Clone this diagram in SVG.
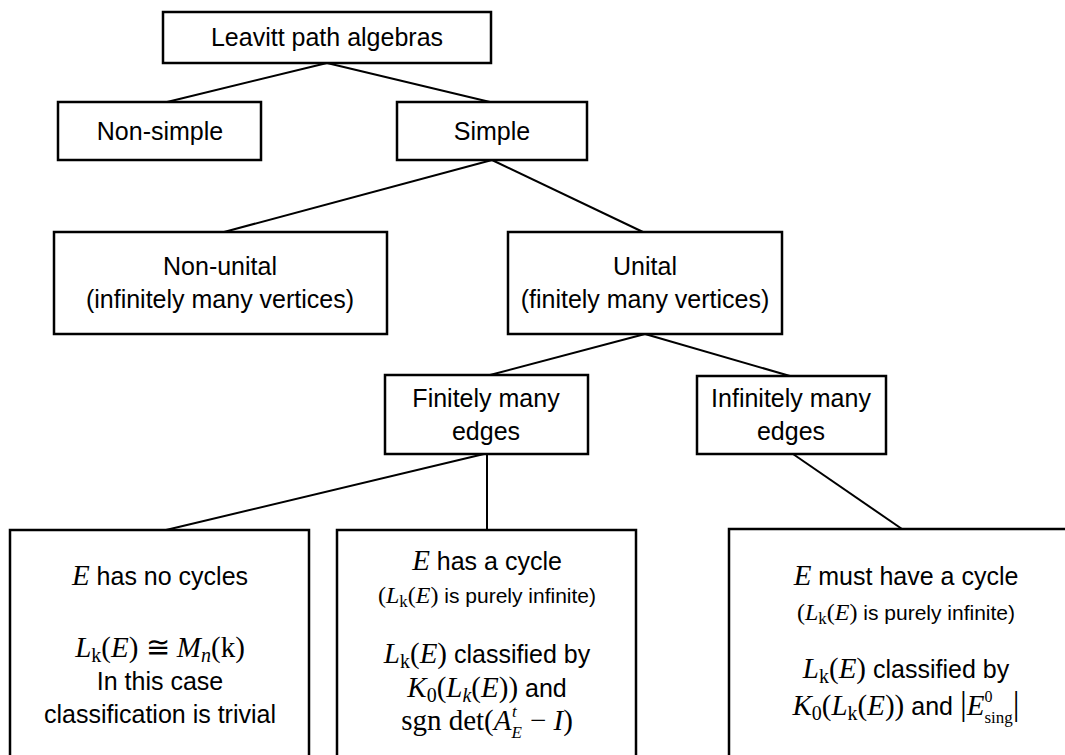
<svg xmlns="http://www.w3.org/2000/svg" width="1065" height="755" viewBox="0 0 1065 755">
<style>
.box{fill:#fff;stroke:#000;stroke-width:2.5}
.ln{stroke:#000;stroke-width:2;fill:none}
.t{font-family:"Liberation Sans",Arial,sans-serif;font-size:25px;fill:#000;text-anchor:middle}
.s{font-size:21px}
.m{font-family:"Liberation Serif","DejaVu Serif",serif;font-style:italic}
.r{font-family:"Liberation Serif","DejaVu Serif",serif;font-style:normal}
.mb{font-size:29px}
.ms{font-size:24px}
</style>
<rect width="1065" height="755" fill="#fff"/>
<g id="connectors">
<line class="ln" x1="327" y1="63" x2="167" y2="102"/>
<line class="ln" x1="327" y1="63" x2="490" y2="102"/>
<line class="ln" x1="492" y1="160" x2="224" y2="232"/>
<line class="ln" x1="492" y1="160" x2="643" y2="232"/>
<line class="ln" x1="645" y1="334" x2="490" y2="375"/>
<line class="ln" x1="645" y1="334" x2="790" y2="376"/>
<line class="ln" x1="484" y1="454" x2="166" y2="530"/>
<line class="ln" x1="487" y1="454" x2="487" y2="530"/>
<line class="ln" x1="793" y1="454" x2="902" y2="529"/>
</g>
<g id="n-lpa"><rect class="box" x="163" y="12" width="328" height="51"/><text class="t" x="327" y="46" font-size="26">Leavitt path algebras</text></g>
<g id="n-nonsimple"><rect class="box" x="58" y="102" width="203" height="58"/><text class="t" x="160" y="140">Non-simple</text></g>
<g id="n-simple"><rect class="box" x="397" y="102" width="190" height="58"/><text class="t" x="492" y="140">Simple</text></g>
<g id="n-nonunital"><rect class="box" x="54" y="232" width="333" height="102"/><text class="t" x="220" y="275">Non-unital</text><text class="t" x="220" y="308">(infinitely many vertices)</text></g>
<g id="n-unital"><rect class="box" x="508" y="232" width="274" height="102"/><text class="t" x="645" y="275">Unital</text><text class="t" x="645" y="308">(finitely many vertices)</text></g>
<g id="n-finite"><rect class="box" x="385" y="375" width="203" height="79"/><text class="t" x="486" y="407">Finitely many</text><text class="t" x="486" y="440">edges</text></g>
<g id="n-infinite"><rect class="box" x="697" y="376" width="189" height="78"/><text class="t" x="791" y="407">Infinitely many</text><text class="t" x="791" y="440">edges</text></g>
<g id="n-nocycles"><rect class="box" x="10" y="530" width="299" height="240"/>
<text class="t" x="160" y="585"><tspan class="m mb">E</tspan> has no cycles</text>
<text class="t mb" x="160" y="657"><tspan class="m">L</tspan><tspan class="r" font-size="20" baseline-shift="-5">k</tspan><tspan class="r">(</tspan><tspan class="m">E</tspan><tspan class="r">)  ≅  </tspan><tspan class="m">M</tspan><tspan class="m" font-size="20" baseline-shift="-5">n</tspan><tspan class="r">(k)</tspan></text>
<text class="t" x="160" y="690">In this case</text>
<text class="t" x="160" y="723">classification is trivial</text>
</g>
<g id="n-cycle"><rect class="box" x="337" y="530" width="299" height="240"/>
<text class="t" x="487" y="570"><tspan class="m mb">E</tspan> has a cycle</text>
<text class="t s" x="487" y="603"><tspan class="r ms">(</tspan><tspan class="m ms">L</tspan><tspan class="r" font-size="17" baseline-shift="-4">k</tspan><tspan class="r ms">(</tspan><tspan class="m ms">E</tspan><tspan class="r ms">)</tspan> is purely infinite)</text>
<text class="t" x="487" y="663"><tspan class="m mb">L</tspan><tspan class="r" font-size="20" baseline-shift="-5">k</tspan><tspan class="r mb">(</tspan><tspan class="m mb">E</tspan><tspan class="r mb">)</tspan> classified by</text>
<text class="t" x="487" y="697"><tspan class="m mb">K</tspan><tspan class="r" font-size="20" baseline-shift="-5">0</tspan><tspan class="r mb">(</tspan><tspan class="m mb">L</tspan><tspan class="m" font-size="20" baseline-shift="-5">k</tspan><tspan class="r mb">(</tspan><tspan class="m mb">E</tspan><tspan class="r mb">))</tspan> and</text>
<text class="t mb" x="487" y="730"><tspan class="r">sgn det(</tspan><tspan class="m">A</tspan><tspan class="m" font-size="17" baseline-shift="-8">E</tspan><tspan class="m" font-size="17" dx="-10" baseline-shift="13">t</tspan><tspan class="r" dx="6">  −  </tspan><tspan class="m">I</tspan><tspan class="r">)</tspan></text>
</g>
<g id="n-mustcycle"><rect class="box" x="729" y="529" width="360" height="240"/>
<text class="t" x="906" y="585"><tspan class="m mb">E</tspan> must have a cycle</text>
<text class="t s" x="906" y="620"><tspan class="r ms">(</tspan><tspan class="m ms">L</tspan><tspan class="r" font-size="17" baseline-shift="-4">k</tspan><tspan class="r ms">(</tspan><tspan class="m ms">E</tspan><tspan class="r ms">)</tspan> is purely infinite)</text>
<text class="t" x="906" y="678"><tspan class="m mb">L</tspan><tspan class="r" font-size="20" baseline-shift="-5">k</tspan><tspan class="r mb">(</tspan><tspan class="m mb">E</tspan><tspan class="r mb">)</tspan> classified by</text>
<text class="t" x="906" y="715"><tspan class="m mb">K</tspan><tspan class="r" font-size="20" baseline-shift="-5">0</tspan><tspan class="r mb">(</tspan><tspan class="m mb">L</tspan><tspan class="r" font-size="20" baseline-shift="-5">k</tspan><tspan class="r mb">(</tspan><tspan class="m mb">E</tspan><tspan class="r mb">))</tspan> and <tspan class="r" font-size="34">|</tspan><tspan class="m mb">E</tspan><tspan class="r" font-size="16" baseline-shift="13">0</tspan><tspan class="r" font-size="17" dx="-8" baseline-shift="-8">sing</tspan><tspan class="r" font-size="34">|</tspan></text>
</g>
</svg>
